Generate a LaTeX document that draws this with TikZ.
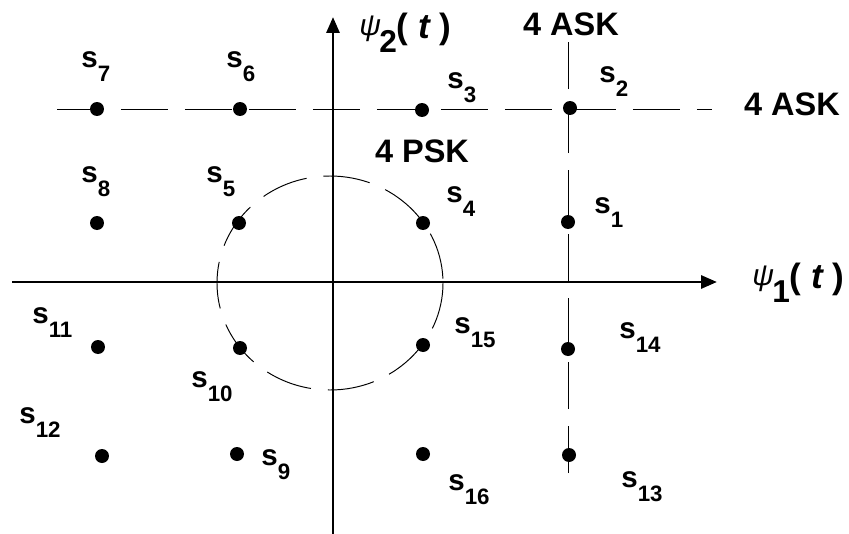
\documentclass[tikz,border=0pt]{standalone}
\usepackage{fontspec}
\setmainfont{Liberation Sans}
\usetikzlibrary{arrows.meta}

\newcommand{\sym}[1]{s\raisebox{-8.5pt}{\fontsize{12.7}{13}\selectfont #1}}
\newcommand{\psilab}[1]{{\fontsize{17}{17}\selectfont\mdseries\itshape\raisebox{1.5pt}{ψ}}\kern-1pt\raisebox{-8.5pt}{\fontsize{18}{18}\selectfont #1}( {\itshape t} )}

\begin{document}
\begin{tikzpicture}[
  x=0.02cm, y=-0.02cm,
  dot/.style={circle, fill, inner sep=0pt, minimum size=0.28cm},
  lbl/.style={anchor=base west, inner sep=0pt, font=\fontsize{16.8}{18}\selectfont\bfseries},
  note/.style={anchor=base, inner sep=0pt, font=\fontsize{18.5}{20}\selectfont\bfseries},
  axlbl/.style={anchor=base west, inner sep=0pt, font=\fontsize{20}{22}\selectfont\bfseries},
  axis/.style={line width=1.7pt, -{Triangle[length=0.32cm, width=0.26cm]}},
  guide/.style={line width=0.55pt, dash pattern=on 0.94cm off 0.34cm}
]
\useasboundingbox (0,0) rectangle (849,534);

% ends of the axes and of the ASK lines
\coordinate (xstart) at (12,282);
\coordinate (xend) at (717,282);
\coordinate (ystart) at (333,534);
\coordinate (yend) at (333,17);
\coordinate (askl) at (57,109);
\coordinate (askr) at (712,109);
\coordinate (askb) at (568,473);
\coordinate (askt) at (568,42);
\coordinate (psk) at (330,283);

% 4 ASK lines and 4 PSK circle
\draw[guide] (askl) -- (askr);
\draw[guide] (askb) -- (askt);
\draw[guide] (psk) ellipse [x radius=113, y radius=107];

% axes
\draw[axis] (xstart) -- (xend);
\draw[axis] (ystart) -- (yend);

% signal points
\foreach \n/\px/\py in {1/568/222, 2/570/108, 3/422/110, 4/423/223,
                        5/239/223, 6/240/109, 7/97/109, 8/97/223,
                        9/237/454, 10/240/348, 11/98/347, 12/102/456,
                        13/569/455, 14/568/349, 15/423/345, 16/423/454}
  \node[dot] (p\n) at (\px,\py) {};

% point names
\foreach \n/\lx/\ly in {1/594/213, 2/599/82, 3/447/88, 4/446/202,
                        5/206/182, 6/226/67, 7/81/67, 8/81/182,
                        9/261/465, 10/191/387, 11/32/323, 12/19/423,
                        13/621/487, 14/619/338, 15/454/333, 16/448/490}
  \node[lbl] (l\n) at (\lx,\ly) {\sym{\n}};

\node[axlbl] (psi1) at (752,288) {\psilab{1}};
\node[axlbl] (psi2) at (359,38) {\psilab{2}};

\node[note] (asktop) at (571,35) {4 ASK};
\node[note] (askright) at (792,115) {4 ASK};
\node[note] (psklbl) at (422,162) {4 PSK};

\end{tikzpicture}
\end{document}
